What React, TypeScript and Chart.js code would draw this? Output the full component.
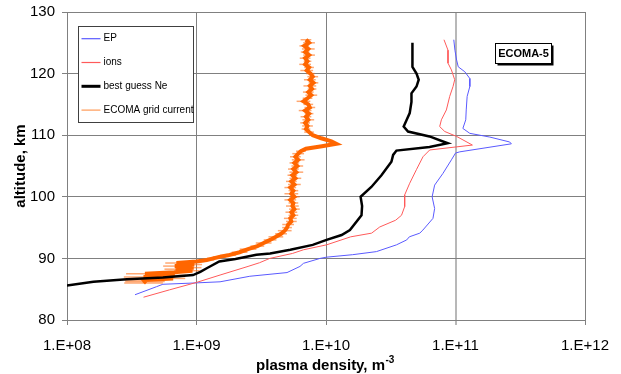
import React, { useEffect, useRef } from 'react';
import { Chart, registerables } from 'chart.js';

Chart.register(...registerables);

const FONT = "'Liberation Sans', Arial, sans-serif";

const X_TICKS = [1e8, 1e9, 1e10, 1e11, 1e12];
const X_TICK_LABELS = ['1.E+08', '1.E+09', '1.E+10', '1.E+11', '1.E+12'];
const Y_TICKS = [80, 90, 100, 110, 120, 130];
const SERIES_NAMES = ['EP', 'ions', 'best guess Ne', 'ECOMA grid current'];
const PANEL_LABEL = 'ECOMA-5';

const EP_ALT = [125.5, 123.8, 122.2, 121.1, 120.3, 119.2, 117.9, 116.3, 114.1, 112.5, 111.1, 110.3, 109.7, 108.9, 108.6, 107.3, 107.1, 106.0, 103.8, 101.9, 100.0, 98.1, 96.5, 94.6, 94.1, 93.5, 93.0, 92.2, 91.1, 90.6, 90.2, 90.0, 89.2, 88.7, 87.7, 87.1, 86.2, 86.0, 85.8, 85.4, 84.1];
const EP_VAL = [9.7e10, 9.9e10, 1.02e11, 1.05e11, 1.18e11, 1.29e11, 1.29e11, 1.23e11, 1.21e11, 1.2e11, 1.14e11, 1.29e11, 1.84e11, 2.62e11, 2.7e11, 1.08e11, 1.0e11, 9.3e10, 8.0e10, 6.9e10, 6.6e10, 6.9e10, 6.7e10, 5.6e10, 5.3e10, 4.4e10, 4.2e10, 3.5e10, 2.45e10, 1.6e10, 1.01e10, 9.0e9, 6.7e9, 6.3e9, 5.0e9, 2.58e9, 1.52e9, 9.4e8, 5.5e8, 4.9e8, 3.35e8];

const ION_ALT = [125.5, 123.8, 121.7, 120.6, 119.0, 117.9, 116.3, 114.1, 112.5, 111.4, 110.6, 109.8, 108.4, 107.6, 106.5, 104.4, 102.2, 100.3, 98.4, 97.0, 96.2, 95.1, 94.1, 93.5, 92.2, 91.4, 90.8, 90.0, 89.3, 88.7, 87.3, 86.1, 84.9, 83.7];
const ION_VAL = [8.15e10, 8.75e10, 8.75e10, 9.3e10, 9.86e10, 9.57e10, 9.02e10, 8.5e10, 7.78e10, 7.55e10, 8.26e10, 1.02e11, 1.35e11, 6.32e10, 5.61e10, 4.99e10, 4.43e10, 4.05e10, 4.05e10, 3.83e10, 3.45e10, 2.6e10, 2.25e10, 1.55e10, 1.01e10, 6.7e9, 5.5e9, 3.68e9, 3.07e9, 2.5e9, 1.52e9, 1.0e9, 6.2e8, 3.9e8];

const NE_ALT = [125.0, 121.1, 120.0, 119.0, 117.9, 116.8, 115.4, 113.6, 112.5, 111.4, 110.6, 109.8, 108.7, 108.1, 107.5, 106.8, 105.7, 103.5, 101.6, 100.0, 98.5, 97.0, 94.6, 93.8, 93.0, 92.2, 91.4, 90.8, 90.6, 89.9, 89.5, 88.4, 87.8, 87.3, 86.9, 86.6, 86.2, 85.6];
const NE_VAL = [4.65e10, 4.65e10, 5.0e10, 5.2e10, 5.0e10, 4.57e10, 4.57e10, 4.43e10, 4.2e10, 3.98e10, 4.3e10, 6.3e10, 8.7e10, 6.3e10, 3.5e10, 3.3e10, 3.2e10, 2.68e10, 2.24e10, 1.85e10, 1.9e10, 1.88e10, 1.53e10, 1.32e10, 1.01e10, 7.9e9, 5.3e9, 3.7e9, 2.9e9, 2.0e9, 1.5e9, 1.2e9, 1.07e9, 9.4e8, 5.5e8, 2.9e8, 1.6e8, 1.0e8];

const GRID_ALT = [125.5, 125.0, 124.5, 124.0, 123.5, 123.0, 122.5, 122.0, 121.5, 121.0, 120.5, 120.0, 119.5, 119.0, 118.5, 118.0, 117.5, 117.0, 116.5, 116.0, 115.5, 115.0, 114.5, 114.0, 113.5, 113.0, 112.5, 112.0, 111.5, 111.0, 110.5, 110.0, 109.5, 109.0, 108.6, 108.2, 107.8, 107.4, 107.0, 106.5, 106.0, 105.5, 105.0, 104.5, 104.0, 103.5, 103.0, 102.5, 102.0, 101.5, 101.0, 100.5, 100.0, 99.5, 99.0, 98.5, 98.0, 97.5, 97.0, 96.5, 96.0, 95.5, 95.0, 94.5, 94.0, 93.5, 93.0, 92.5, 92.0, 91.5, 91.0, 90.5, 90.25, 90.0, 89.75, 89.5, 89.25, 89.0, 88.75, 88.5, 88.25, 88.0, 87.75, 87.5, 87.25, 87.0, 86.75, 86.5, 86.25, 86.0];
const GRID_VAL = [7.0e9, 7.4e9, 6.8e9, 7.3e9, 6.9e9, 7.4e9, 6.9e9, 7.2e9, 6.9e9, 7.4e9, 7.1e9, 7.6e9, 7.9e9, 7.5e9, 8.0e9, 7.5e9, 7.8e9, 7.3e9, 7.7e9, 7.2e9, 6.7e9, 7.3e9, 7.5e9, 6.9e9, 7.4e9, 7.0e9, 7.3e9, 6.9e9, 7.2e9, 7.0e9, 7.4e9, 7.9e9, 9.2e9, 1.1e10, 1.2e10, 9.3e9, 7.0e9, 6.4e9, 6.1e9, 5.8e9, 6.1e9, 5.7e9, 6.0e9, 5.6e9, 5.9e9, 5.5e9, 5.8e9, 5.4e9, 5.7e9, 5.3e9, 5.6e9, 5.4e9, 5.7e9, 5.3e9, 5.6e9, 5.5e9, 5.7e9, 5.4e9, 5.6e9, 5.3e9, 5.4e9, 5.1e9, 5.0e9, 4.8e9, 4.5e9, 4.1e9, 3.7e9, 3.3e9, 2.95e9, 2.5e9, 2.15e9, 1.75e9, 1.5e9, 1.35e9, 1.2e9, 1.0e9, 7.0e8, 9.6e8, 6.8e8, 9.5e8, 6.9e8, 9.3e8, 6.7e8, 4.0e8, 6.8e8, 3.9e8, 6.6e8, 3.9e8, 4.0e8, 3.9e8];
const GRID_ERR = [0.10, 0.11, 0.09, 0.12, 0.08, 0.11, 0.10, 0.07, 0.11, 0.09, 0.12, 0.08, 0.10, 0.11, 0.09, 0.12, 0.08, 0.10, 0.11, 0.09, 0.13, 0.09, 0.10, 0.12, 0.08, 0.10, 0.11, 0.09, 0.10, 0.08, 0.09, 0.06, 0.04, 0.03, 0.03, 0.03, 0.05, 0.09, 0.11, 0.10, 0.12, 0.09, 0.11, 0.10, 0.13, 0.09, 0.11, 0.10, 0.12, 0.11, 0.09, 0.13, 0.10, 0.11, 0.09, 0.12, 0.10, 0.11, 0.09, 0.12, 0.10, 0.11, 0.09, 0.13, 0.11, 0.14, 0.12, 0.15, 0.13, 0.16, 0.15, 0.15, 0.13, 0.12, 0.14, 0.15, 0.22, 0.15, 0.23, 0.15, 0.22, 0.14, 0.23, 0.40, 0.22, 0.42, 0.24, 0.40, 0.42, 0.41];

const COLORS = ['#5a5aff', '#ff5a5a', '#000000', '#ff6600'];
const WIDTHS = [1, 1, 2.5, 4];

function pts(alt: number[], val: number[]) {
  return alt.map((a, i) => ({ x: val[i], y: a }));
}

const decorPlugin = {
  id: 'decor',
  beforeDatasetsDraw(chart: any) {
    const { ctx, chartArea, scales } = chart;
    const xs = scales.x;
    const ys = scales.y;
    ctx.save();
    ctx.beginPath();
    ctx.rect(chartArea.left, chartArea.top, chartArea.right - chartArea.left, chartArea.bottom - chartArea.top);
    ctx.clip();
    ctx.strokeStyle = 'rgba(255,110,20,0.6)';
    ctx.lineWidth = 1.5;
    for (let i = 0; i < GRID_ALT.length; i++) {
      const y = ys.getPixelForValue(GRID_ALT[i]);
      const x1 = xs.getPixelForValue(GRID_VAL[i] / (1 + GRID_ERR[i]));
      const x2 = xs.getPixelForValue(GRID_VAL[i] * (1 + GRID_ERR[i]));
      ctx.beginPath();
      ctx.moveTo(x1, y);
      ctx.lineTo(x2, y);
      ctx.stroke();
    }
    ctx.restore();
  },
  afterDraw(chart: any) {
    const { ctx } = chart;
    ctx.save();
    ctx.fillStyle = '#000';
    ctx.save();
    ctx.translate(21, 166);
    ctx.rotate(-Math.PI / 2);
    ctx.font = `bold 15px ${FONT}`;
    ctx.textAlign = 'center';
    ctx.textBaseline = 'middle';
    ctx.fillText('altitude, km', 0, 0);
    ctx.restore();
    const main = 'plasma density, m';
    const sup = '-3';
    ctx.font = `bold 15px ${FONT}`;
    const w1 = ctx.measureText(main).width;
    ctx.font = `bold 10px ${FONT}`;
    const w2 = ctx.measureText(sup).width;
    const sx = 325 - (w1 + w2) / 2;
    ctx.textAlign = 'left';
    ctx.textBaseline = 'alphabetic';
    ctx.font = `bold 15px ${FONT}`;
    ctx.fillText(main, sx, 369.5);
    ctx.font = `bold 10px ${FONT}`;
    ctx.fillText(sup, sx + w1 + 0.5, 363);

    ctx.fillStyle = '#fff';
    ctx.fillRect(78.5, 26.5, 115, 96);
    ctx.strokeStyle = '#404040';
    ctx.lineWidth = 1;
    ctx.strokeRect(78.5, 26.5, 115, 96);
    const ds = chart.data.datasets;
    ctx.font = `10px ${FONT}`;
    ctx.textBaseline = 'middle';
    for (let i = 0; i < SERIES_NAMES.length; i++) {
      const y = 38.7 + i * 23.8;
      const d = ds.find((q: any) => q.label === SERIES_NAMES[i]);
      ctx.strokeStyle = i === 3 ? 'rgba(255,120,30,0.75)' : d.borderColor;
      ctx.lineWidth = i === 2 ? 3 : 1.2;
      ctx.beginPath();
      ctx.moveTo(81.5, y);
      ctx.lineTo(100.5, y);
      ctx.stroke();
      ctx.fillStyle = '#000';
      ctx.fillText(SERIES_NAMES[i], 103.5, y);
    }

    ctx.fillStyle = '#000';
    ctx.fillRect(497.5, 45.5, 56, 20);
    ctx.fillStyle = '#fff';
    ctx.fillRect(495.5, 43.5, 56, 20);
    ctx.strokeStyle = '#000';
    ctx.lineWidth = 1;
    ctx.strokeRect(495.5, 43.5, 56, 20);
    ctx.fillStyle = '#000';
    ctx.font = `bold 11px ${FONT}`;
    ctx.textAlign = 'center';
    ctx.textBaseline = 'middle';
    ctx.fillText(PANEL_LABEL, 523.5, 54);
    ctx.restore();
  },
};

export default function App() {
  const ref = useRef<HTMLCanvasElement>(null);
  useEffect(() => {
    document.body.style.margin = '0';
    const canvas = ref.current;
    if (!canvas) return;
    const gridColor = (c: any) => (c.tick && c.tick.value === 1e11 ? '#b8b8b8' : '#808080');
    const gridWidth = (c: any) => (c.tick && c.tick.value === 1e11 ? 2 : 1);
    const chart = new Chart(canvas, {
      type: 'scatter',
      data: {
        datasets: [
          { label: SERIES_NAMES[2], data: pts(NE_ALT, NE_VAL), borderColor: COLORS[2], borderWidth: WIDTHS[2], showLine: true, pointRadius: 0, order: 0 },
          { label: SERIES_NAMES[3], data: pts(GRID_ALT, GRID_VAL), borderColor: COLORS[3], borderWidth: WIDTHS[3], showLine: true, pointRadius: 0, order: 1 },
          { label: SERIES_NAMES[1], data: pts(ION_ALT, ION_VAL), borderColor: COLORS[1], borderWidth: WIDTHS[1], showLine: true, pointRadius: 0, order: 2 },
          { label: SERIES_NAMES[0], data: pts(EP_ALT, EP_VAL), borderColor: COLORS[0], borderWidth: WIDTHS[0], showLine: true, pointRadius: 0, order: 3 },
        ],
      },
      options: {
        animation: false,
        responsive: false,
        layout: { padding: { top: 12, right: 36, left: 0, bottom: 0 } },
        plugins: { legend: { display: false }, tooltip: { enabled: false } },
        scales: {
          x: {
            type: 'logarithmic',
            position: 'bottom',
            min: 1e8,
            max: 1e12,
            afterBuildTicks: (s: any) => {
              s.ticks = X_TICKS.map((v) => ({ value: v }));
            },
            afterFit: (s: any) => {
              s.height = 54;
              s.paddingLeft = 0;
              s.paddingRight = 0;
            },
            ticks: {
              autoSkip: false,
              maxRotation: 0,
              padding: 12,
              color: '#000',
              font: { family: FONT, size: 15 },
              callback: (_v: any, i: number) => X_TICK_LABELS[i],
            },
            grid: { color: gridColor, lineWidth: gridWidth, tickLength: 5 },
            border: { color: '#808080' },
          },
          y: {
            type: 'linear',
            position: 'left',
            min: 80,
            max: 130,
            afterBuildTicks: (s: any) => {
              s.ticks = Y_TICKS.map((v) => ({ value: v }));
            },
            afterFit: (s: any) => {
              s.width = 67;
              s.paddingTop = 0;
              s.paddingBottom = 0;
            },
            ticks: {
              padding: 7,
              color: '#000',
              font: { family: FONT, size: 15 },
              callback: (v: any) => String(v),
            },
            grid: { color: '#808080', lineWidth: 1, tickLength: 5 },
            border: { color: '#808080' },
          },
        },
      },
      plugins: [decorPlugin],
    } as any);
    return () => chart.destroy();
  }, []);
  return <canvas ref={ref} width={621} height={374} style={{ display: 'block', width: 621, height: 374 }} />;
}
